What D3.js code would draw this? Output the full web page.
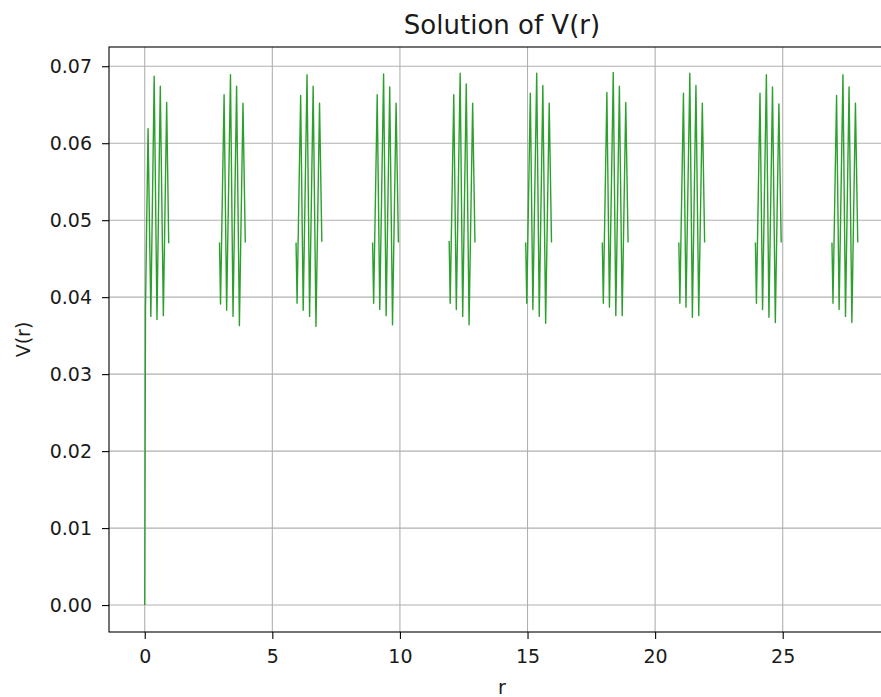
<!DOCTYPE html>
<html><head><meta charset="utf-8">
<script src="https://cdn.jsdelivr.net/npm/d3@7"></script>
<style>
body{margin:0;background:#fff}
text{font-family:"DejaVu Sans",sans-serif;fill:#1a1a1a}
</style>
</head><body>
<svg id="chart" width="881" height="697"></svg>
<script>
// r samples of each burst (gaps between bursts)
const rValues = [
  [0.00, 0.03, 0.13, 0.24, 0.37, 0.48, 0.61, 0.73, 0.86, 0.94],
  [2.93, 2.97, 3.11, 3.21, 3.36, 3.46, 3.60, 3.71, 3.85, 3.94],
  [5.93, 5.97, 6.11, 6.21, 6.36, 6.46, 6.60, 6.71, 6.85, 6.94],
  [8.93, 8.97, 9.11, 9.21, 9.36, 9.46, 9.60, 9.71, 9.85, 9.94],
  [11.93, 11.97, 12.11, 12.21, 12.36, 12.46, 12.60, 12.71, 12.85, 12.94],
  [14.93, 14.97, 15.11, 15.21, 15.36, 15.46, 15.60, 15.71, 15.85, 15.94],
  [17.93, 17.97, 18.11, 18.21, 18.36, 18.46, 18.60, 18.71, 18.85, 18.94],
  [20.93, 20.97, 21.11, 21.21, 21.36, 21.46, 21.60, 21.71, 21.85, 21.94],
  [23.93, 23.97, 24.11, 24.21, 24.36, 24.46, 24.60, 24.71, 24.85, 24.94],
  [26.93, 26.97, 27.11, 27.21, 27.36, 27.46, 27.60, 27.71, 27.85, 27.94]
];
const vValues = [
  [0.0000, 0.0385, 0.0619, 0.0375, 0.0687, 0.0371, 0.0674, 0.0376, 0.0653, 0.0470],
  [0.0471, 0.0391, 0.0663, 0.0383, 0.0689, 0.0375, 0.0674, 0.0363, 0.0652, 0.0471],
  [0.0471, 0.0392, 0.0662, 0.0383, 0.0689, 0.0375, 0.0674, 0.0362, 0.0652, 0.0472],
  [0.0471, 0.0392, 0.0663, 0.0384, 0.0690, 0.0376, 0.0673, 0.0364, 0.0652, 0.0471],
  [0.0473, 0.0392, 0.0663, 0.0384, 0.0691, 0.0375, 0.0677, 0.0364, 0.0652, 0.0471],
  [0.0471, 0.0392, 0.0665, 0.0384, 0.0691, 0.0375, 0.0675, 0.0366, 0.0652, 0.0471],
  [0.0471, 0.0392, 0.0666, 0.0387, 0.0692, 0.0376, 0.0674, 0.0376, 0.0653, 0.0471],
  [0.0471, 0.0392, 0.0665, 0.0387, 0.0691, 0.0374, 0.0675, 0.0376, 0.0652, 0.0471],
  [0.0471, 0.0392, 0.0665, 0.0384, 0.0689, 0.0374, 0.0673, 0.0367, 0.0651, 0.0471],
  [0.0471, 0.0392, 0.0662, 0.0384, 0.0689, 0.0375, 0.0673, 0.0367, 0.0652, 0.0471]
];
const xTicks = [0, 5, 10, 15, 20, 25];
const yTicks = [0.00, 0.01, 0.02, 0.03, 0.04, 0.05, 0.06, 0.07];
const titleText = "Solution of V(r)";
const xLabel = "r";
const yLabel = "V(r)";

const svg = d3.select("#chart");
const L = 109, R = 895, T = 47, B = 632;
const x = d3.scaleLinear().domain([-1.4, 29.4]).range([L, R]);
const y = d3.scaleLinear().domain([-0.0035, 0.0725]).range([B, T]);

// grid
const g = svg.append("g");
g.selectAll(".gx").data(xTicks).join("line")
  .attr("x1", d => x(d)).attr("x2", d => x(d)).attr("y1", T).attr("y2", B)
  .attr("stroke", "#b0b0b0").attr("stroke-width", 1.1);
g.selectAll(".gy").data(yTicks).join("line")
  .attr("x1", L).attr("x2", R).attr("y1", d => y(d)).attr("y2", d => y(d))
  .attr("stroke", "#b0b0b0").attr("stroke-width", 1.1);

// data
const pts = [];
rValues.forEach((rs, i) => {
  rs.forEach((r, j) => pts.push([r, vValues[i][j]]));
  pts.push([NaN, NaN]);
});
const line = d3.line().defined(d => !isNaN(d[0])).x(d => x(d[0])).y(d => y(d[1]));
svg.append("path").attr("d", line(pts)).attr("fill", "none")
  .attr("stroke", "#2ca02c").attr("stroke-width", 1.4).attr("stroke-linejoin", "round");

// axes
const xAxis = d3.axisBottom(x).tickValues(xTicks).tickSize(7).tickPadding(11).tickFormat(d3.format("d"));
const yAxis = d3.axisLeft(y).tickValues(yTicks).tickSize(7).tickPadding(10).tickFormat(d3.format(".2f"));
const gx = svg.append("g").attr("transform", `translate(0,${B})`).call(xAxis);
const gy = svg.append("g").attr("transform", `translate(${L},0)`).call(yAxis);
[gx, gy].forEach(a => {
  a.select(".domain").remove();
  a.selectAll("line").attr("stroke", "#000").attr("stroke-width", 1.1);
  a.selectAll("text").style("font-family", "DejaVu Sans").style("font-size", "19px").attr("fill", "#1a1a1a");
});

// spines
svg.append("rect").attr("x", L).attr("y", T).attr("width", R - L).attr("height", B - T)
  .attr("fill", "none").attr("stroke", "#000").attr("stroke-width", 1.1);

// labels
svg.append("text").attr("x", (L + R) / 2).attr("y", 34).attr("text-anchor", "middle")
  .style("font-size", "26px").text(titleText);
svg.append("text").attr("x", (L + R) / 2).attr("y", 694).attr("text-anchor", "middle")
  .style("font-size", "19px").text(xLabel);
svg.append("text").attr("transform", `translate(30,${(T + B) / 2}) rotate(-90)`).attr("text-anchor", "middle")
  .style("font-size", "19px").text(yLabel);
</script>
</body></html>
